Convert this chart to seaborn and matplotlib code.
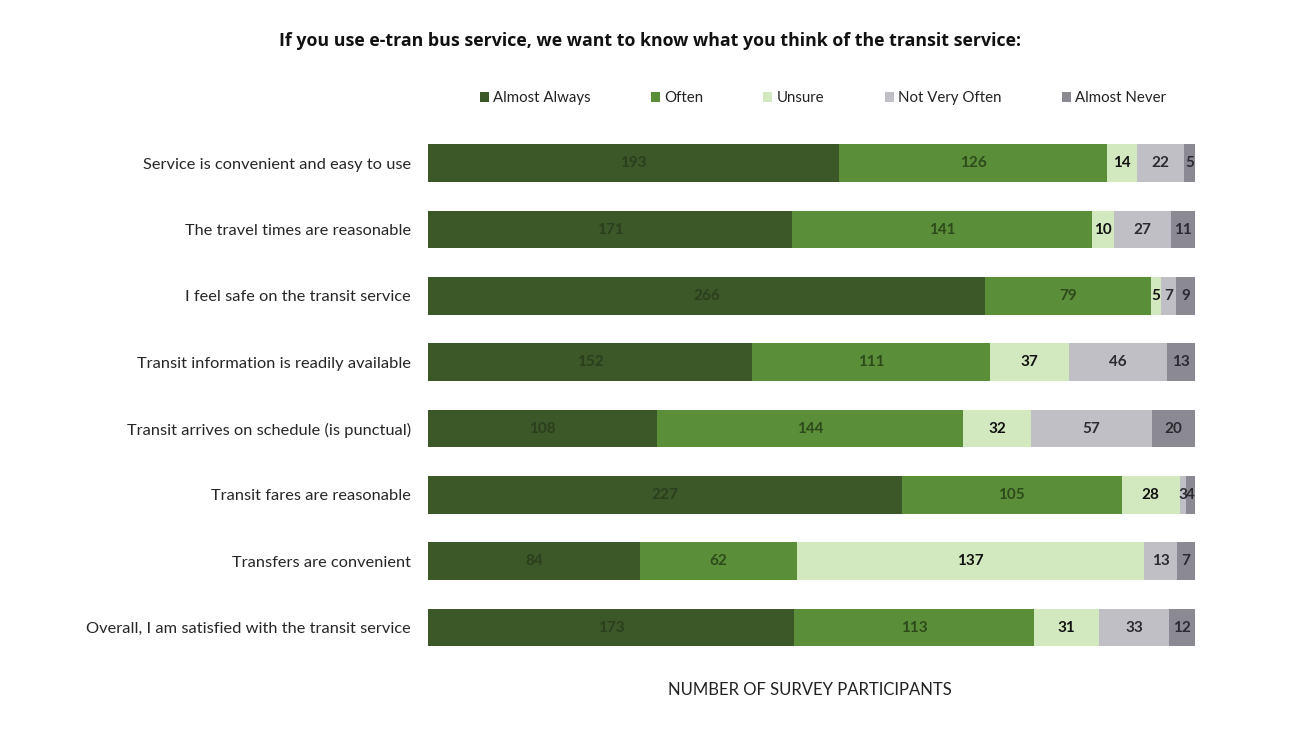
import matplotlib
matplotlib.use("Agg")
import matplotlib.pyplot as plt
import seaborn as sns
import pandas as pd
import numpy as np
from matplotlib.patches import Patch

# Survey statements (top to bottom)
statements = [
    "Service is convenient and easy to use",
    "The travel times are reasonable",
    "I feel safe on the transit service",
    "Transit information is readily available",
    "Transit arrives on schedule (is punctual)",
    "Transit fares are reasonable",
    "Transfers are convenient",
    "Overall, I am satisfied with the transit service",
]

# Response categories, in stacking order
responses = ["Almost Always", "Often", "Unsure", "Not Very Often", "Almost Never"]

# Counts of participants per response
almost_always = [193, 171, 266, 152, 108, 227, 84, 173]
often = [126, 141, 79, 111, 144, 105, 62, 113]
unsure = [14, 10, 5, 37, 32, 28, 137, 31]
not_very_often = [22, 27, 7, 46, 57, 3, 13, 33]
almost_never = [5, 11, 9, 13, 20, 4, 7, 12]

colors = ["#3c5728", "#5b8e38", "#d2e9bf", "#c0bfc6", "#8b8a92"]
label_colors = ["#2b3e1d", "#2d4a1c", "#111111", "#2a2a30", "#2a2a30"]

counts = pd.DataFrame(
    {"statement": statements,
     responses[0]: almost_always,
     responses[1]: often,
     responses[2]: unsure,
     responses[3]: not_very_often,
     responses[4]: almost_never}
).set_index("statement")

# Each row is shown as a share of its total (100% stacked bars)
shares = counts.div(counts.sum(axis=1), axis=0)
cum = shares.cumsum(axis=1)

sns.set_theme(style="white")
plt.rcParams["font.family"] = ["Lato", "DejaVu Sans"]

fig = plt.figure(figsize=(13, 7.39), dpi=100)
ax = fig.add_axes([0.329, 0.106, 0.590, 0.718])

# Draw from the widest cumulative layer down so each segment shows on top
for i in range(len(responses) - 1, -1, -1):
    df = pd.DataFrame({"statement": statements, "value": cum[responses[i]].values})
    sns.barplot(data=df, x="value", y="statement", color=colors[i],
                saturation=1, width=0.57, ax=ax, orient="h",
                linewidth=0, edgecolor="none")

# Value labels centred in each segment
for i, r in enumerate(responses):
    left = cum[r].values - shares[r].values
    mid = left + shares[r].values / 2
    for j, val in enumerate(counts[r].values):
        ax.text(mid[j], j, str(val), ha="center", va="center",
                fontsize=11, fontweight="bold", color=label_colors[i])

ax.set_xlim(0, 1)
ax.set_ylim(len(statements) - 0.5, -0.5)
ax.set_xlabel("")
ax.set_ylabel("")
ax.set_xticks([])
ax.tick_params(axis="y", length=0, pad=12, labelsize=11.8)
for s in ax.spines.values():
    s.set_visible(False)

fig.text(0.5, 0.944, "If you use e-tran bus service, we want to know what you think of the transit service:",
         ha="center", va="center", fontsize=12.8, fontweight="bold", color="#111111",
         family=["Open Sans", "DejaVu Sans"])

handles = [Patch(facecolor=c, edgecolor="none") for c in colors]
fig.legend(handles, responses, loc="center", bbox_to_anchor=(0.633, 0.867), ncol=5,
           frameon=False, fontsize=10.8, handlelength=0.6, handleheight=0.6,
           handletextpad=0.3, columnspacing=4.0, labelcolor="#222222")

fig.text(0.623, 0.066, "NUMBER OF SURVEY PARTICIPANTS", ha="center", va="center",
         fontsize=12, color="#222222")

fig.savefig("out.png", dpi=100, facecolor="white")
